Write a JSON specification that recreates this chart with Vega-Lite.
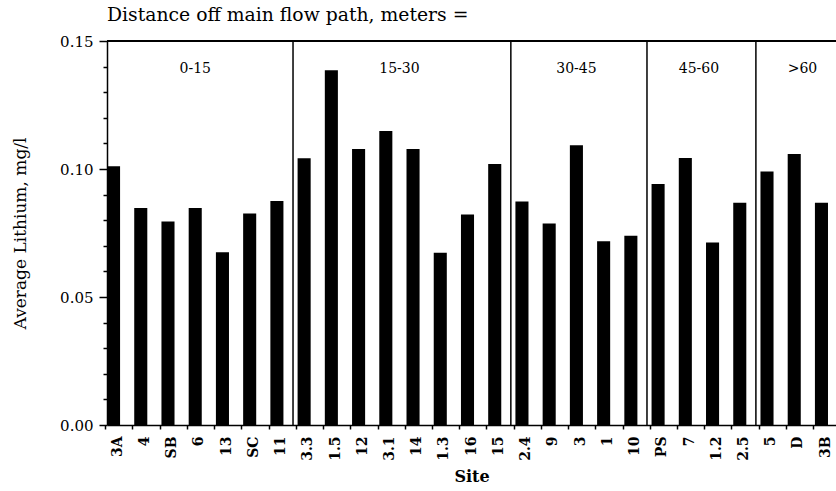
{
  "$schema": "https://vega.github.io/schema/vega-lite/v6.json",
  "width": 729,
  "height": 384,
  "autosize": "none",
  "padding": {"left": 107, "top": 41, "right": 0, "bottom": 66},
  "background": "white",
  "config": {
    "view": {"stroke": null},
    "font": "DejaVu Serif",
    "axis": {
      "domainColor": "black",
      "tickColor": "black",
      "labelColor": "black",
      "titleColor": "black",
      "labelFont": "DejaVu Serif",
      "titleFont": "DejaVu Serif",
      "titleFontWeight": "normal",
      "grid": false
    },
    "axisY": {
      "titleFontSize": 17,
      "titleX": -87,
      "titleY": 192,
      "titleBaseline": "middle",
      "labelOverlap": false,
      "labelFontSize": 15,
      "labelPadding": 6,
      "tickWidth": 1.5,
      "domainWidth": 1.5
    }
  },
  "title": {
    "text": "Distance off main flow path, meters =",
    "anchor": "start",
    "frame": "group",
    "font": "DejaVu Serif",
    "fontSize": 18.8,
    "fontWeight": "normal",
    "color": "black",
    "baseline": "alphabetic",
    "offset": -6
  },
  "datasets": {
    "sites": [
      {"site": "3A", "group": "0-15", "lithium": 0.1011},
      {"site": "4", "group": "0-15", "lithium": 0.0848},
      {"site": "SB", "group": "0-15", "lithium": 0.0795},
      {"site": "6", "group": "0-15", "lithium": 0.0848},
      {"site": "13", "group": "0-15", "lithium": 0.0675},
      {"site": "SC", "group": "0-15", "lithium": 0.0826},
      {"site": "11", "group": "0-15", "lithium": 0.0875},
      {"site": "3.3", "group": "15-30", "lithium": 0.1042},
      {"site": "1.5", "group": "15-30", "lithium": 0.1386},
      {"site": "12", "group": "15-30", "lithium": 0.1078},
      {"site": "3.1", "group": "15-30", "lithium": 0.1148},
      {"site": "14", "group": "15-30", "lithium": 0.1078},
      {"site": "1.3", "group": "15-30", "lithium": 0.0673},
      {"site": "16", "group": "15-30", "lithium": 0.0822},
      {"site": "15", "group": "15-30", "lithium": 0.1020},
      {"site": "2.4", "group": "30-45", "lithium": 0.0873},
      {"site": "9", "group": "30-45", "lithium": 0.0787},
      {"site": "3", "group": "30-45", "lithium": 0.1093},
      {"site": "1", "group": "30-45", "lithium": 0.0718},
      {"site": "10", "group": "30-45", "lithium": 0.0739},
      {"site": "PS", "group": "45-60", "lithium": 0.0941},
      {"site": "7", "group": "45-60", "lithium": 0.1043},
      {"site": "1.2", "group": "45-60", "lithium": 0.0713},
      {"site": "2.5", "group": "45-60", "lithium": 0.0868},
      {"site": "5", "group": ">60", "lithium": 0.0990},
      {"site": "D", "group": ">60", "lithium": 0.1059},
      {"site": "3B", "group": ">60", "lithium": 0.0868}
    ],
    "groups": [
      {"group": "0-15", "first": "3A", "anchor": "6"},
      {"group": "15-30", "first": "3.3", "anchor": "3.1"},
      {"group": "30-45", "first": "2.4", "anchor": "3"},
      {"group": "45-60", "first": "PS", "anchor": "7"},
      {"group": ">60", "first": "5", "anchor": "D"}
    ]
  },
  "layer": [
    {
      "data": {"name": "sites"},
      "mark": {"type": "bar", "color": "black"},
      "encoding": {
        "x": {
          "field": "site",
          "type": "nominal",
          "sort": null,
          "scale": {"paddingInner": 0.52, "paddingOuter": 0.147, "align": 0},
          "axis": {
            "title": "Site",
            "titleFontSize": 16,
            "titleFontWeight": "bold",
            "titleY": 51,
            "titleBaseline": "middle",
            "labelAngle": 270,
            "labelAlign": "right",
            "labelBaseline": "middle",
            "labelFontSize": 14,
            "labelFontWeight": "bold",
            "labelPadding": 7,
            "tickSize": 4,
            "tickWidth": 1.5,
            "domainWidth": 1.5,
            "tickOffset": -8.3,
            "labelOffset": 12
          }
        },
        "y": {
          "field": "lithium",
          "type": "quantitative",
          "scale": {"domain": [0, 0.15], "nice": false},
          "axis": {
            "title": "Average Lithium, mg/l",
            "values": [0, 0.01, 0.02, 0.03, 0.04, 0.05, 0.06, 0.07, 0.08, 0.09, 0.1, 0.11, 0.12, 0.13, 0.14, 0.15],
            "labelExpr": "round(datum.value*100) % 5 === 0 ? format(datum.value, '.2f') : ''",
            "tickSize": {"condition": {"test": "round(datum.value*100) % 5 === 0", "value": 8}, "value": 4}
          }
        }
      }
    },
    {
      "data": {"name": "groups"},
      "transform": [{"filter": "datum.group !== '0-15'"}],
      "mark": {"type": "rule", "color": "black", "strokeWidth": 1.5},
      "encoding": {
        "x": {"field": "first", "type": "nominal", "sort": null, "bandPosition": -0.35}
      }
    },
    {
      "data": {"name": "groups"},
      "mark": {"type": "rule", "color": "black", "strokeWidth": 2},
      "encoding": {
        "y": {
          "datum": 0.15,
          "type": "quantitative",
          "axis": {
            "title": "Average Lithium, mg/l",
            "values": [0, 0.01, 0.02, 0.03, 0.04, 0.05, 0.06, 0.07, 0.08, 0.09, 0.1, 0.11, 0.12, 0.13, 0.14, 0.15],
            "labelExpr": "round(datum.value*100) % 5 === 0 ? format(datum.value, '.2f') : ''",
            "tickSize": {"condition": {"test": "round(datum.value*100) % 5 === 0", "value": 8}, "value": 4}
          }
        }
      }
    },
    {
      "data": {"name": "groups"},
      "transform": [{"filter": {"field": "group", "oneOf": ["0-15", "30-45"]}}],
      "mark": {"type": "text", "font": "DejaVu Serif", "fontSize": 14, "color": "black", "baseline": "middle", "align": "center"},
      "encoding": {
        "x": {"field": "anchor", "type": "nominal", "sort": null, "bandPosition": 0.5},
        "y": {
          "datum": 0.139,
          "type": "quantitative",
          "axis": {
            "title": "Average Lithium, mg/l",
            "values": [0, 0.01, 0.02, 0.03, 0.04, 0.05, 0.06, 0.07, 0.08, 0.09, 0.1, 0.11, 0.12, 0.13, 0.14, 0.15],
            "labelExpr": "round(datum.value*100) % 5 === 0 ? format(datum.value, '.2f') : ''",
            "tickSize": {"condition": {"test": "round(datum.value*100) % 5 === 0", "value": 8}, "value": 4}
          }
        },
        "text": {"field": "group"}
      }
    },
    {
      "data": {"name": "groups"},
      "transform": [{"filter": {"field": "group", "oneOf": ["15-30", "45-60"]}}],
      "mark": {"type": "text", "font": "DejaVu Serif", "fontSize": 14, "color": "black", "baseline": "middle", "align": "center"},
      "encoding": {
        "x": {"field": "anchor", "type": "nominal", "sort": null, "bandPosition": 1.54},
        "y": {
          "datum": 0.139,
          "type": "quantitative",
          "axis": {
            "title": "Average Lithium, mg/l",
            "values": [0, 0.01, 0.02, 0.03, 0.04, 0.05, 0.06, 0.07, 0.08, 0.09, 0.1, 0.11, 0.12, 0.13, 0.14, 0.15],
            "labelExpr": "round(datum.value*100) % 5 === 0 ? format(datum.value, '.2f') : ''",
            "tickSize": {"condition": {"test": "round(datum.value*100) % 5 === 0", "value": 8}, "value": 4}
          }
        },
        "text": {"field": "group"}
      }
    },
    {
      "data": {"name": "groups"},
      "transform": [{"filter": {"field": "group", "oneOf": [">60"]}}],
      "mark": {"type": "text", "font": "DejaVu Serif", "fontSize": 14, "color": "black", "baseline": "middle", "align": "center"},
      "encoding": {
        "x": {"field": "anchor", "type": "nominal", "sort": null, "bandPosition": 1.13},
        "y": {
          "datum": 0.139,
          "type": "quantitative",
          "axis": {
            "title": "Average Lithium, mg/l",
            "values": [0, 0.01, 0.02, 0.03, 0.04, 0.05, 0.06, 0.07, 0.08, 0.09, 0.1, 0.11, 0.12, 0.13, 0.14, 0.15],
            "labelExpr": "round(datum.value*100) % 5 === 0 ? format(datum.value, '.2f') : ''",
            "tickSize": {"condition": {"test": "round(datum.value*100) % 5 === 0", "value": 8}, "value": 4}
          }
        },
        "text": {"field": "group"}
      }
    }
  ]
}
